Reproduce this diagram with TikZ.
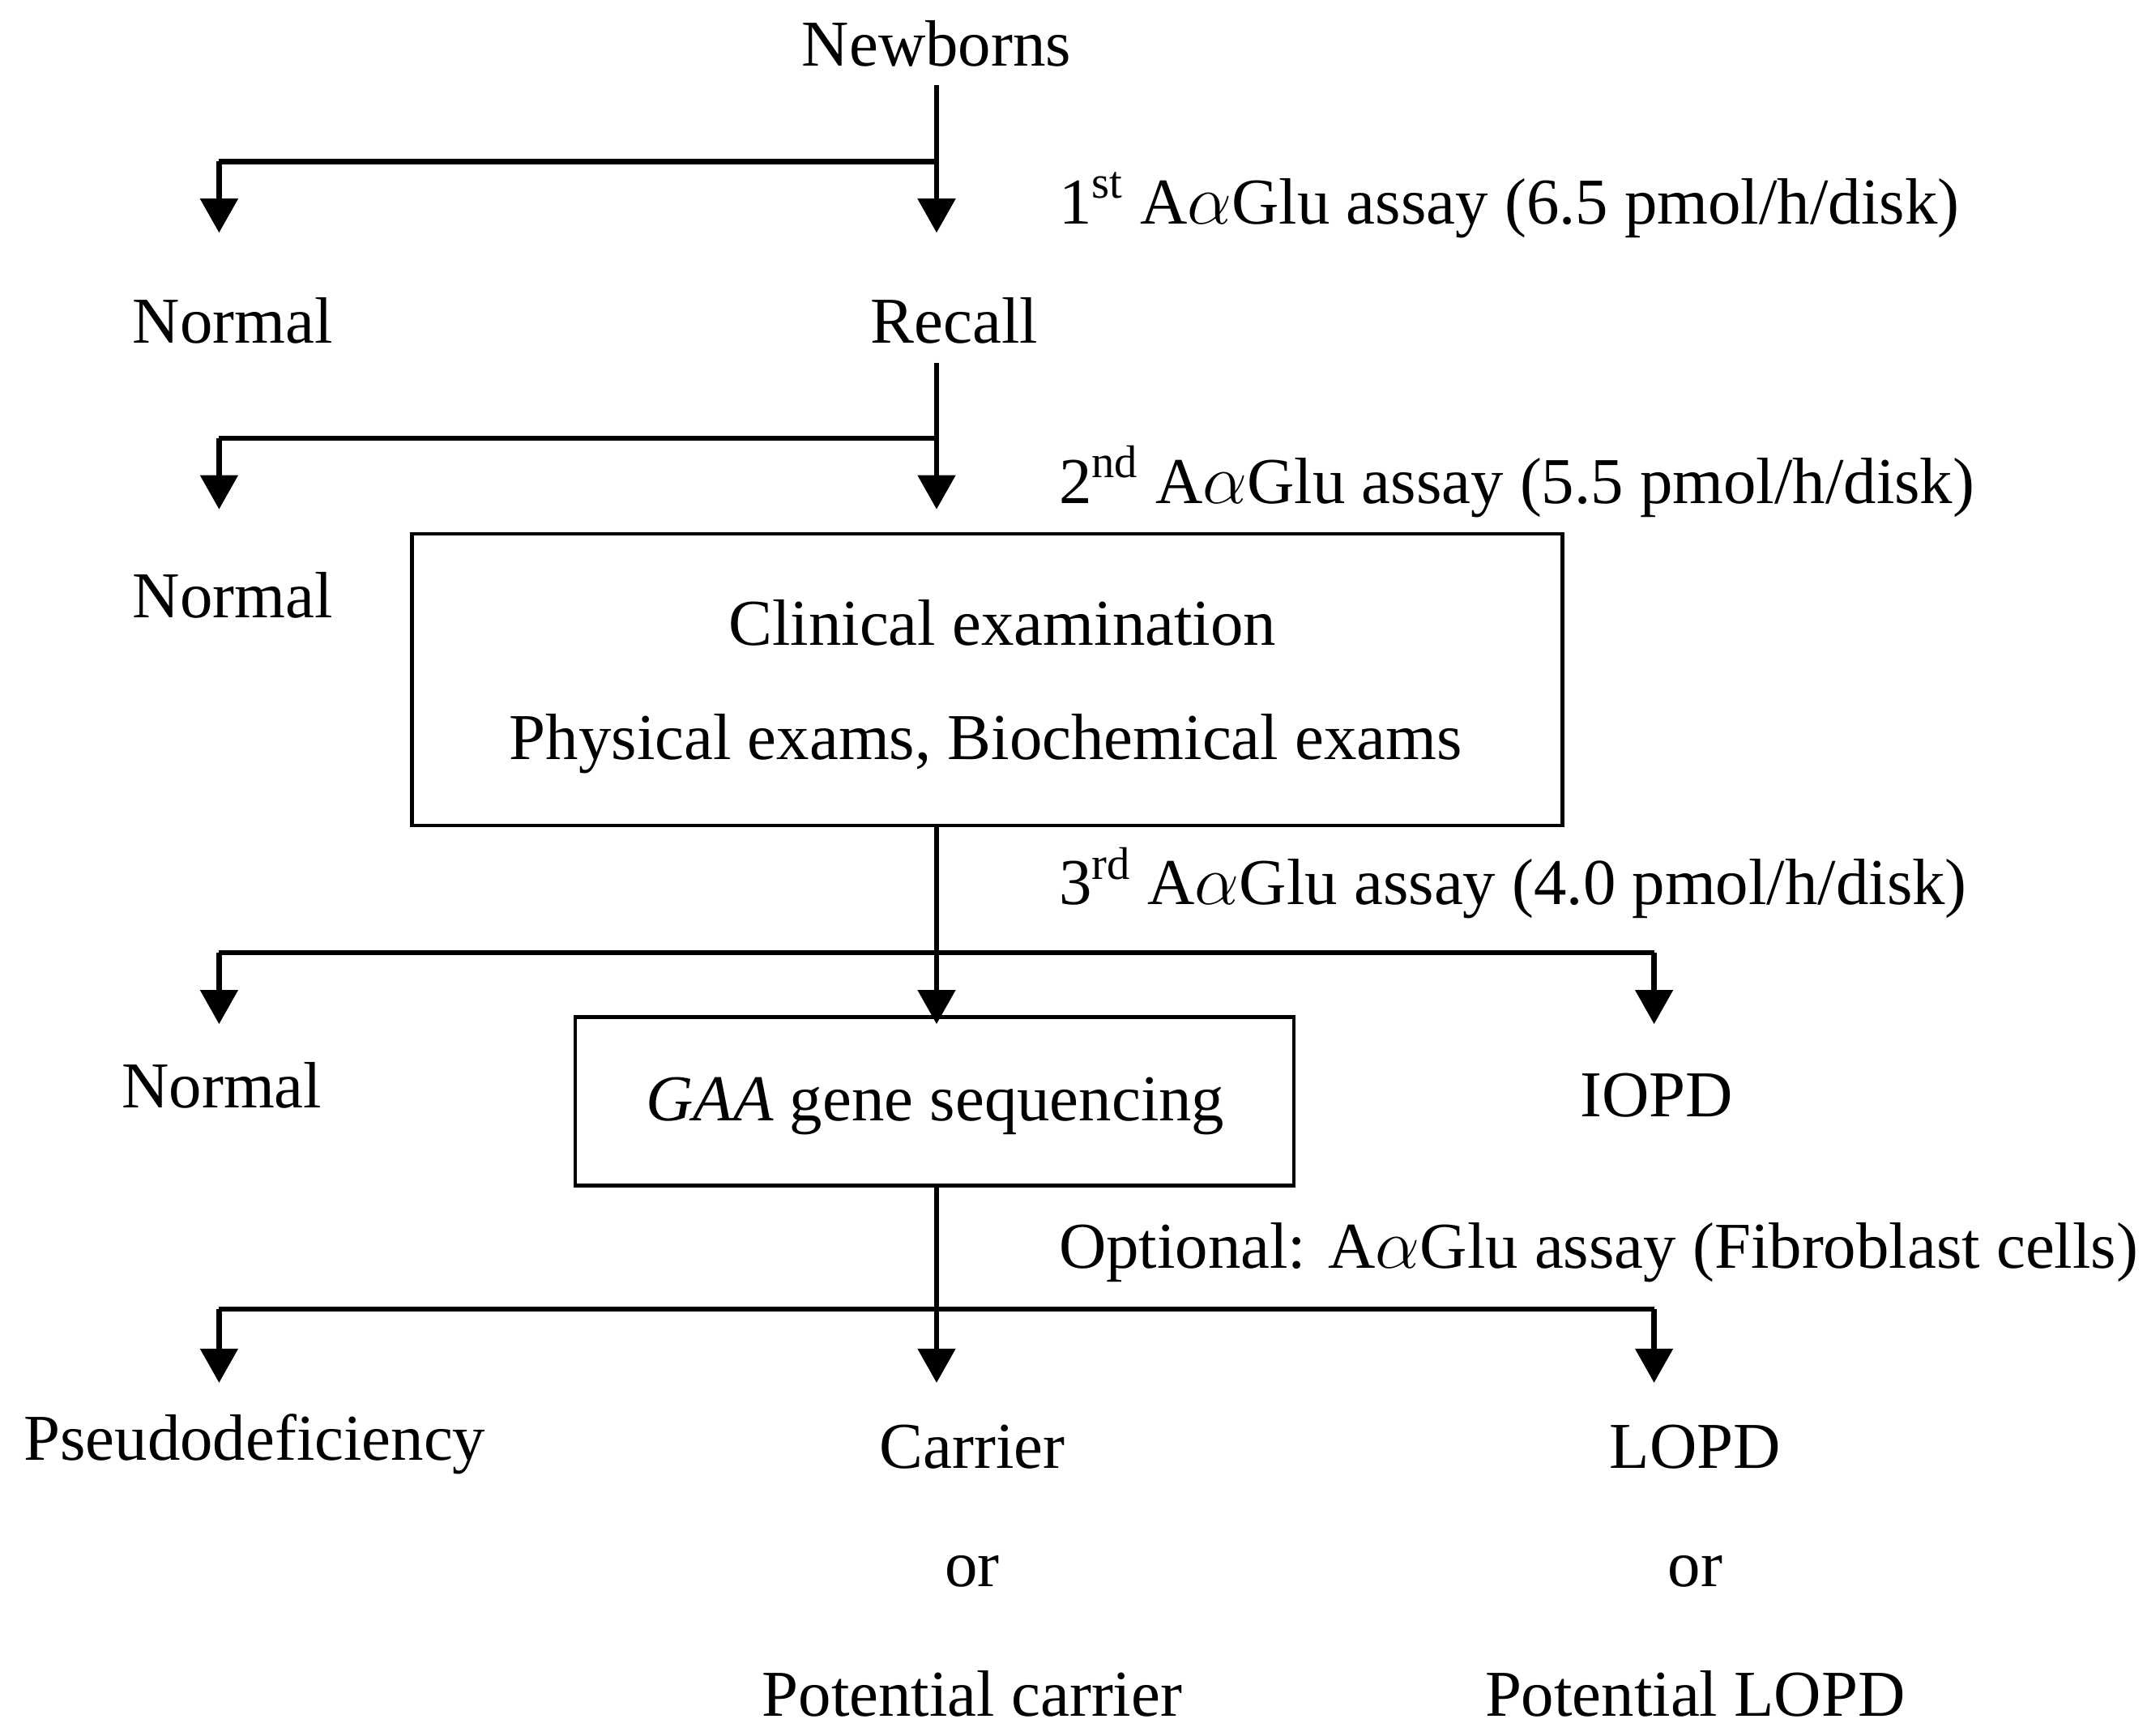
\documentclass[tikz,border=0pt]{standalone}
\usepackage{fontspec}
\setmainfont{Liberation Serif}
\usetikzlibrary{arrows.meta}
\begin{document}
\begin{tikzpicture}[x=0.0169cm,y=-0.0169cm,
  t/.style={font=\fontsize{23}{26}\selectfont,inner sep=0pt},
  lbl/.style={t,anchor=west},
  ln/.style={line width=1.8pt},
  ar/.style={ln,-{Triangle[width=13pt,length=12pt]}},
  box/.style={draw,line width=1.3pt}]
\useasboundingbox (0,0) rectangle (1568,1268);
\node[t] (nb) at (684,32) {Newborns};
\coordinate (s1) at (684,62);
\coordinate (j1) at (684,118);
\coordinate (l1) at (160,118);
\coordinate (a1l) at (160,170);
\coordinate (a1r) at (684,170);
\draw[ln] (s1) -- (j1) -- (l1);
\draw[ar] (j1) -- (a1r);
\draw[ar] (l1) -- (a1l);
\node[lbl] (q1) at (773,150) {1\textsuperscript{st} A$\alpha$Glu assay (6.5 pmol/h/disk)};
\node[t] (n1) at (170,234) {Normal};
\node[t] (rc) at (697,234) {Recall};
\coordinate (s2) at (684,265);
\coordinate (j2) at (684,320);
\coordinate (l2) at (160,320);
\coordinate (a2l) at (160,372);
\coordinate (a2r) at (684,372);
\draw[ln] (s2) -- (j2) -- (l2);
\draw[ar] (j2) -- (a2r);
\draw[ar] (l2) -- (a2l);
\node[lbl] (q2) at (773,352) {2\textsuperscript{nd} A$\alpha$Glu assay (5.5 pmol/h/disk)};
\node[t] (n2) at (170,435) {Normal};
\draw[box] (301,390) rectangle (1141,603);
\node[t] (ce) at (732,455) {Clinical examination};
\node[t] (pe) at (720,543) {Physical exams, Biochemical exams};
\coordinate (s3) at (684,603);
\coordinate (j3) at (684,696);
\coordinate (l3) at (160,696);
\coordinate (r3) at (1208,696);
\coordinate (a3l) at (160,748);
\coordinate (a3m) at (684,748);
\coordinate (a3r) at (1208,748);
\draw[ln] (s3) -- (j3);
\draw[ln] (l3) -- (r3);
\draw[ar] (j3) -- (a3m);
\draw[ar] (l3) -- (a3l);
\draw[ar] (r3) -- (a3r);
\node[lbl] (q3) at (773,645) {3\textsuperscript{rd} A$\alpha$Glu assay (4.0 pmol/h/disk)};
\node[t] (n3) at (162,793) {Normal};
\node[t] (io) at (1210,800) {IOPD};
\draw[box] (420,743) rectangle (945,866);
\node[t] (gs) at (683,808) {\textit{GAA} gene sequencing};
\coordinate (s4) at (684,866);
\coordinate (j4) at (684,956);
\coordinate (l4) at (160,956);
\coordinate (r4) at (1208,956);
\coordinate (a4l) at (160,1010);
\coordinate (a4m) at (684,1010);
\coordinate (a4r) at (1208,1010);
\draw[ln] (s4) -- (j4);
\draw[ln] (l4) -- (r4);
\draw[ar] (j4) -- (a4m);
\draw[ar] (l4) -- (a4l);
\draw[ar] (r4) -- (a4r);
\node[lbl] (q4) at (773,915) {Optional: A$\alpha$Glu assay (Fibroblast cells)};
\node[t] (pd) at (186,1055) {Pseudodeficiency};
\node[t] (ca) at (710,1057) {Carrier};
\node[t] (o1) at (710,1148) {or};
\node[t] (pc) at (710,1237) {Potential carrier};
\node[t] (lo) at (1238,1057) {LOPD};
\node[t] (o2) at (1238,1148) {or};
\node[t] (pl) at (1238,1237) {Potential LOPD};
\end{tikzpicture}
\end{document}
